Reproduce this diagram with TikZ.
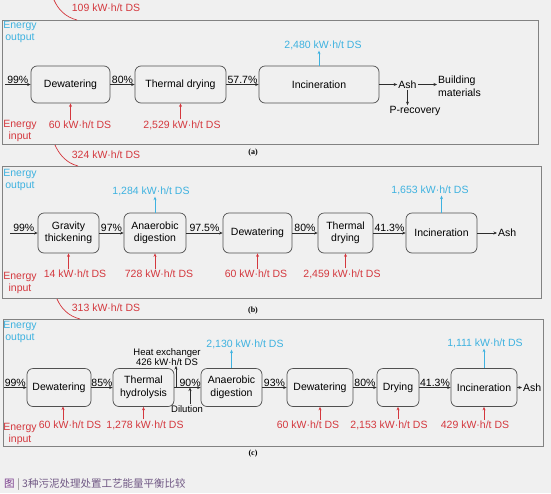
\documentclass[tikz,border=0pt]{standalone}
\usepackage{fontspec}
\setmainfont{Liberation Sans}
\newfontfamily\cjk{Noto Sans CJK SC}
\newfontfamily\labfont{Liberation Serif}
\usetikzlibrary{arrows.meta, positioning}
\definecolor{bggray}{RGB}{240,240,240}
\definecolor{framegray}{RGB}{130,130,130}
\definecolor{boxline}{RGB}{80,80,80}
\definecolor{flowline}{RGB}{45,45,45}
\definecolor{inred}{RGB}{212,56,62}
\definecolor{outblue}{RGB}{62,178,224}
\definecolor{captpurple}{RGB}{122,60,140}
\definecolor{capttext}{RGB}{112,88,132}

\begin{document}
\begin{tikzpicture}[x=1pt, y=-1pt,
    font=\fontsize{10.5}{12.5}\selectfont,
    box/.style={draw=boxline, fill=bggray, rounded corners=6pt, line width=0.7pt, minimum height=37pt, align=center, inner sep=2pt},
    arrow/.style={-{Stealth[length=3.5pt, width=3pt]}, line width=0.6pt, draw=flowline},
    inarrow/.style={arrow, draw=inred},
    outarrow/.style={arrow, draw=outblue},
    pct/.style={above, inner sep=1pt},
    inlabel/.style={text=inred, inner sep=1pt},
    outlabel/.style={text=outblue, inner sep=1pt},
    side/.style={align=center, inner sep=0pt},
    frame/.style={draw=framegray, line width=0.8pt},
    net/.style={draw=inred, line width=0.7pt},
    panel/.style={font=\labfont\bfseries\fontsize{8}{9}\selectfont}
]
    \fill[bggray] (0,0) rectangle (551,493);
    \useasboundingbox (0,0) rectangle (551,493);

    % (a)
    \draw[frame] (2,20) rectangle (538,144);
    \coordinate (aN0) at (54,0);
    \coordinate (aN1) at (77,20);
    \draw[net] (aN0) .. controls (58,9) and (65,17) .. (aN1);
    \node[inlabel] (aNet) at (106,8) {109 kW·h/t DS};
    \node[outlabel, side] (aOut) at (20,32) {Energy\\output};
    \node[inlabel, side] (aIn) at (20,131) {Energy\\input};
    \node[box, minimum width=79pt] (a1) at (70.5,84.5) {Dewatering};
    \node[box, minimum width=91pt] (a2) at (180.5,84.5) {Thermal drying};
    \node[box, minimum width=120pt] (a3) at (319,84.5) {Incineration};
    \node[inner sep=1pt] (a4) at (407.5,84.5) {Ash};
    \node[anchor=west, align=left, inner sep=1pt] (a5) at (437,86) {Building\\materials};
    \node[inner sep=1pt] (a6) at (415,111) {P-recovery};
    \coordinate (a0) at (5,84.5);
    \draw[arrow] (a0) -- node[pct] {99\%} (a1);
    \draw[arrow] (a1) -- node[pct] {80\%} (a2);
    \draw[arrow] (a2) -- node[pct] {57.7\%} (a3);
    \draw[arrow] (a3) -- (a4);
    \draw[arrow] (a4.east) -- (a4.east -| a5.west);
    \draw[arrow] (a4.south) -- (a4.south |- a6.north);
    \node[inlabel] (a1in) at (80,125) {60 kW·h/t DS};
    \node[inlabel] (a2in) at (182,125) {2,529 kW·h/t DS};
    \node[outlabel] (a3out) at (323,45) {2,480 kW·h/t DS};
    \draw[inarrow] (a1.south |- a1in.north) -- (a1.south);
    \draw[inarrow] (a2.south |- a2in.north) -- (a2.south);
    \draw[outarrow] (a3.north) -- (a3.north |- a3out.south);
    \node[panel] (aLab) at (253,153) {(a)};

    % (b)
    \draw[frame] (2,166) rectangle (541,298);
    \coordinate (bN0) at (55,145);
    \coordinate (bN1) at (78,166);
    \draw[net] (bN0) .. controls (59,154) and (66,163) .. (bN1);
    \node[inlabel] (bNet) at (106,155) {324 kW·h/t DS};
    \node[outlabel, side] (bOut) at (20,180) {Energy\\output};
    \node[inlabel, side] (bIn) at (20,283) {Energy\\input};
    \node[box, minimum width=61pt, minimum height=40pt] (b1) at (68.5,233) {Gravity\\thickening};
    \node[box, minimum width=62pt, minimum height=40pt] (b2) at (155,233) {Anaerobic\\digestion};
    \node[box, minimum width=69pt, minimum height=40pt] (b3) at (257.5,233) {Dewatering};
    \node[box, minimum width=55pt, minimum height=40pt] (b4) at (345.5,233) {Thermal\\drying};
    \node[box, minimum width=71pt, minimum height=40pt] (b5) at (441.5,233) {Incineration};
    \node[anchor=west, inner sep=1pt] (b6) at (497,233) {Ash};
    \coordinate (b0) at (10,233);
    \draw[arrow] (b0) -- node[pct] {99\%} (b1);
    \draw[arrow] (b1) -- node[pct] {97\%} (b2);
    \draw[arrow] (b2) -- node[pct] {97.5\%} (b3);
    \draw[arrow] (b3) -- node[pct] {80\%} (b4);
    \draw[arrow] (b4) -- node[pct] {41.3\%} (b5);
    \draw[arrow] (b5) -- (b6);
    \node[inlabel] (b1in) at (75,274) {14 kW·h/t DS};
    \node[inlabel] (b2in) at (159,274) {728 kW·h/t DS};
    \node[inlabel] (b3in) at (256,274) {60 kW·h/t DS};
    \node[inlabel] (b4in) at (342,274) {2,459 kW·h/t DS};
    \node[outlabel] (b2out) at (151,191) {1,284 kW·h/t DS};
    \node[outlabel] (b5out) at (430,190) {1,653 kW·h/t DS};
    \foreach \n in {1,2,3,4}
        \draw[inarrow] (b\n.south |- b\n in.north) -- (b\n.south);
    \draw[outarrow] (b2.north) -- (b2.north |- b2out.south);
    \draw[outarrow] (b5.north) -- (b5.north |- b5out.south);
    \node[panel] (bLab) at (253,311) {(b)};

    % (c)
    \draw[frame] (3,319) rectangle (543,446);
    \coordinate (cN0) at (57,299);
    \coordinate (cN1) at (80,319);
    \draw[net] (cN0) .. controls (61,308) and (68,316) .. (cN1);
    \node[inlabel] (cNet) at (106,308) {313 kW·h/t DS};
    \node[outlabel, side] (cOut) at (20,332) {Energy\\output};
    \node[inlabel, side] (cIn) at (20,434) {Energy\\input};
    \node[box, minimum width=64pt, minimum height=38pt] (c1) at (59,387.5) {Dewatering};
    \node[box, minimum width=61pt, minimum height=38pt] (c2) at (143.5,387.5) {Thermal\\hydrolysis};
    \node[box, minimum width=61pt, minimum height=38pt] (c3) at (231.5,387.5) {Anaerobic\\digestion};
    \node[box, minimum width=66pt, minimum height=38pt] (c4) at (320,387.5) {Dewatering};
    \node[box, minimum width=42pt, minimum height=38pt] (c5) at (398,387.5) {Drying};
    \node[box, minimum width=66pt, minimum height=38pt] (c6) at (484,387.5) {Incineration};
    \node[anchor=west, inner sep=1pt] (c7) at (522,387.5) {Ash};
    \coordinate (c0) at (4,387.5);
    \draw[arrow] (c0) -- node[pct] {99\%} (c1);
    \draw[arrow] (c1) -- node[pct] {85\%} (c2);
    \draw[arrow] (c2) -- node[pct, pos=0.6] {90\%} (c3);
    \draw[arrow] (c3) -- node[pct] {93\%} (c4);
    \draw[arrow] (c4) -- node[pct] {80\%} (c5);
    \draw[arrow] (c5) -- node[pct] {41.3\%} (c6);
    \draw[arrow] (c6) -- (c7);
    \node[side, font=\fontsize{9.5}{10.5}\selectfont] (hx) at (167,357) {Heat exchanger\\426 kW·h/t DS};
    \coordinate (hxb) at (176,387.5);
    \draw[arrow] (hxb) -- (hxb |- hx.south);
    \node[inner sep=1pt, font=\fontsize{9.5}{11}\selectfont] (dl) at (187,409) {Dilution};
    \coordinate (dil) at (190,387.5);
    \draw[arrow] (dil |- dl.north) -- (dil);
    \node[inlabel] (c1in) at (70,425) {60 kW·h/t DS};
    \node[inlabel] (c2in) at (145,425) {1,278 kW·h/t DS};
    \node[inlabel] (c4in) at (308,425) {60 kW·h/t DS};
    \node[inlabel] (c5in) at (389,425) {2,153 kW·h/t DS};
    \node[inlabel] (c6in) at (475,425) {429 kW·h/t DS};
    \node[outlabel] (c3out) at (245,344) {2,130 kW·h/t DS};
    \node[outlabel] (c6out) at (485,343) {1,111 kW·h/t DS};
    \coordinate (c1b) at (63,406.5);
    \draw[inarrow] (c1b |- c1in.north) -- (c1b);
    \foreach \n in {2,4,5,6}
        \draw[inarrow] (c\n.south |- c\n in.north) -- (c\n.south);
    \draw[outarrow] (c3.north) -- (c3.north |- c3out.south);
    \draw[outarrow] (c6.north) -- (c6.north |- c6out.south);
    \node[panel] (cLab) at (253,454) {(c)};

    % caption
    \node[anchor=west, inner sep=0pt, font=\cjk\fontsize{10.5}{12}\selectfont] (cap) at (4,485)
        {\textcolor{captpurple}{图}\ \textcolor{gray}{|}\ \textcolor{capttext}{3种污泥处理处置工艺能量平衡比较}};
\end{tikzpicture}
\end{document}
